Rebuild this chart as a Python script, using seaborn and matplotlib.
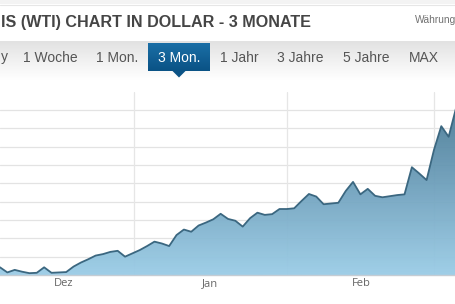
import numpy as np
import matplotlib
matplotlib.use("Agg")
import matplotlib.pyplot as plt
from matplotlib.patches import Rectangle, Polygon
from matplotlib.colors import LinearSegmentedColormap
import seaborn as sns

# ---- data (trading-day index -> price in USD) ----
price = [67.1, 65.7, 66.4, 65.9, 65.5, 65.6, 67.1, 65.6, 65.7, 65.8,
         67.3, 68.4, 69.3, 70.3, 70.7, 71.3, 71.6, 70.0, 70.9, 71.8,
         72.9, 74.1, 73.6, 72.9, 75.9, 77.4, 76.8, 78.5, 79.3, 80.2,
         81.7, 80.3, 79.8, 78.2, 80.5, 82.0, 81.4, 81.6, 83.0, 83.0,
         83.2, 85.2, 87.1, 86.4, 84.3, 84.5, 84.7, 87.9, 90.4, 87.0,
         88.5, 86.6, 86.2, 86.5, 86.8, 87.0, 94.4, 92.7, 90.9, 99.1,
         105.6, 102.7, 110.5]
month_labels = ["Dez", "Jan", "Feb"]
month_pos = [8.7, 28.55, 49.08]
vgrid_pos = [18.22, 39.02, 59.0]
y_ticks = [65, 70, 75, 80, 85, 90, 95, 100, 105, 110]

tabs = ["y", "1 Woche", "1 Mon.", "3 Mon.", "1 Jahr", "3 Jahre", "5 Jahre", "MAX"]
tab_x = [4, 50, 117.5, 179, 239.5, 300, 366, 423.5]
active_tab = "3 Mon."
title = "IS (WTI) CHART IN DOLLAR - 3 MONATE"

sns.set_theme(style="white")
plt.rcParams['font.family'] = ['Liberation Sans', 'DejaVu Sans']

W, H = 456, 304
fig = plt.figure(figsize=(W / 100, H / 100), dpi=100)
fig.patch.set_facecolor("white")

# ---- header (pixel coordinates) ----
hx = fig.add_axes([0, 0, 1, 1], zorder=0)
hx.set_xlim(0, W)
hx.set_ylim(H, 0)
hx.axis("off")
hx.add_patch(Rectangle((0, 0), W, 4, color="#f3f3f3", lw=0))
hx.plot([0, W], [4.5, 4.5], color="#e6e6e6", lw=0.8)
grad = np.linspace(0, 1, 64).reshape(-1, 1)
cm_band = LinearSegmentedColormap.from_list("band", ["#e2e2e2", "#f1f1f1", "#ffffff"])
hx.imshow(grad, extent=(0, W, 80, 41), aspect="auto", cmap=cm_band, zorder=1)
cm_tab = LinearSegmentedColormap.from_list("tab", ["#1b6fa6", "#0a5285"])
hx.imshow(grad, extent=(148, 210, 71, 43), aspect="auto", cmap=cm_tab, zorder=2)
hx.add_patch(Polygon([[172, 70.5], [186, 70.5], [179, 77.5]], closed=True,
                     color="#0a5285", lw=0, zorder=2))
hx.text(1, 22, title, fontsize=11.6, fontweight="bold", color="#454545",
        ha="left", va="center", zorder=3)
hx.text(415, 20, "Währung", fontsize=7.3, color="#707070", ha="left", va="center", zorder=3)
for t, x in zip(tabs, tab_x):
    hx.text(x, 57.5, t, fontsize=10, color="white" if t == active_tab else "#555555",
            ha="center", va="center", zorder=3)

# ---- chart ----
idx = np.arange(len(price))
bottom_px, top_px = 275, 91.7
ax = fig.add_axes([0, 1 - bottom_px / H, 1, (bottom_px - top_px) / H], zorder=1)
ax.set_facecolor("none")
ymin, ymax = 65, 115
ax.set_xlim(0, len(price) - 1)
ax.set_ylim(ymin, ymax)

for yv in y_ticks[1:]:
    ax.axhline(yv, color="#e3e3e3", lw=0.9, zorder=0)
for xv in vgrid_pos:
    ax.axvline(xv, color="#e6e6e6", lw=0.9, zorder=0)

fill = ax.fill_between(idx, price, ymin, color="none", lw=0, zorder=1)
cm_fill = LinearSegmentedColormap.from_list("fill", ["#44758f", "#6e9fbb", "#9acce6"])
img = ax.imshow(grad, extent=(0, len(price) - 1, ymin, ymax), aspect="auto",
                cmap=cm_fill, origin="upper", zorder=1, alpha=0.95)
path = fill.get_paths()[0]
img.set_clip_path(path, transform=ax.transData)

sns.lineplot(x=idx, y=price, ax=ax, color="#3b6780", lw=1.3, zorder=3)

ax.set_xticks(month_pos)
ax.set_xticklabels(month_labels, fontsize=8, color="#666666", family=["Open Sans", "DejaVu Sans"])
ax.tick_params(axis="x", length=0, pad=2.5)
ax.set_yticks([])
for s in ["top", "left", "right"]:
    ax.spines[s].set_visible(False)
ax.spines["bottom"].set_color("#c5ccd3")
ax.spines["bottom"].set_linewidth(1.0)
ax.set_xlabel("")
ax.set_ylabel("")

fig.savefig("out.png", dpi=100)
